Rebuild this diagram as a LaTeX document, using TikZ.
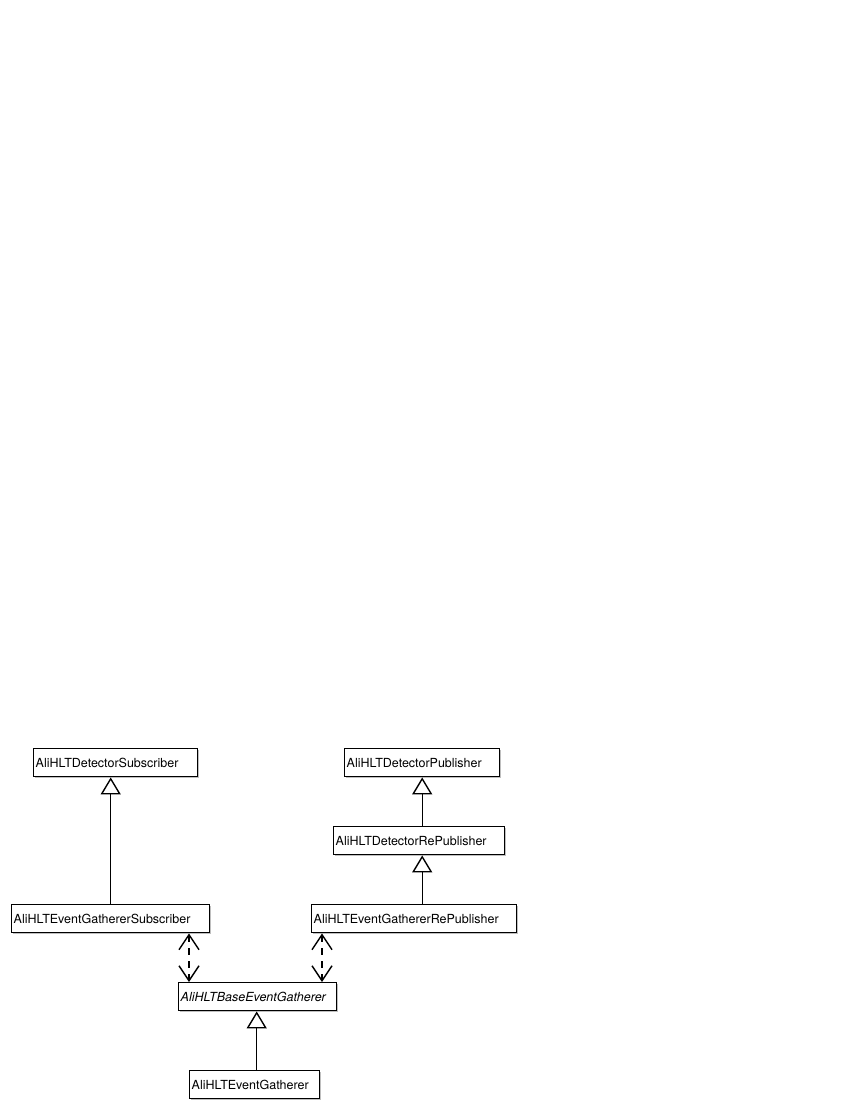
\documentclass[tikz,border=0pt]{standalone}
\usepackage{fontspec}
\setmainfont{TeX Gyre Heros}
\usetikzlibrary{arrows.meta,shadows}

\tikzset{
  klass/.style={draw, line width=1.4pt, fill=white, anchor=north west, inner xsep=2pt, inner ysep=0pt,
    minimum height=28pt, text width=#1, align=left, text height=9.5pt, text depth=0pt,
    font=\fontsize{12.5}{15}\selectfont,
    drop shadow={shadow xshift=1.5pt, shadow yshift=-1.5pt, fill=black!25, opacity=1}},
  inherit/.style={-{Triangle[open, length=17pt, width=20pt]}, line width=1.4pt},
  uses/.style={{Straight Barb[length=15pt, width=20pt]}-{Straight Barb[length=15pt, width=20pt]},
    line width=1.4pt, dash pattern=on 7pt off 6pt},
}

\begin{document}
\begin{tikzpicture}[x=1pt, y=-1pt]
    \useasboundingbox (0,0) rectangle (850,1100);

    \node[klass=160pt] (dsub) at (33,748) {AliHLTDetectorSubscriber};
    \node[klass=151pt] (dpub) at (344,748) {AliHLTDetectorPublisher};
    \node[klass=167pt] (drep) at (333,826) {AliHLTDetectorRePublisher};
    \node[klass=194pt] (egsub) at (11,904) {AliHLTEventGathererSubscriber};
    \node[klass=201pt] (egrep) at (311,904) {AliHLTEventGathererRePublisher};
    \node[klass=154pt] (base) at (178,982) {\itshape AliHLTBaseEventGatherer};
    \node[klass=126pt] (eg) at (189,1070) {AliHLTEventGatherer};

    \draw[inherit] (egsub.north) -- (egsub.north |- dsub.south);
    \draw[inherit] (drep.north -| dpub.south) -- (dpub.south);
    \draw[inherit] (egrep.north -| dpub.south) -- (drep.south -| dpub.south);
    \draw[inherit] ([xshift=-1pt]eg.north -| base.south) -- ([xshift=-1pt]base.south);

    \coordinate (lu) at ([xshift=11pt]base.north west);
    \coordinate (ru) at ([xshift=11pt]egrep.south west);
    \draw[uses] (lu |- egsub.south) -- (lu);
    \draw[uses] (ru) -- (ru |- base.north);

\end{tikzpicture}
\end{document}
